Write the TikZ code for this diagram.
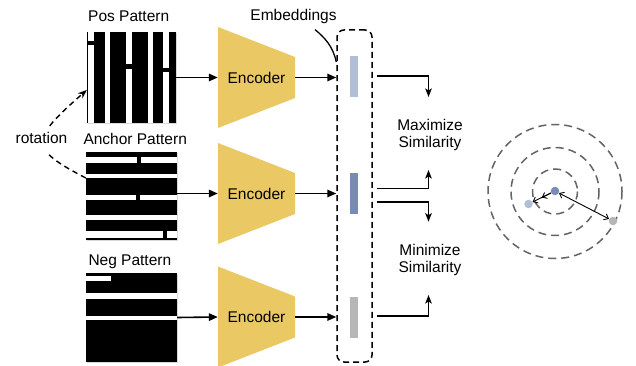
\documentclass[tikz,border=0pt]{standalone}
\usepackage{fontspec}
\setmainfont{Liberation Sans}
\usetikzlibrary{arrows.meta,shadows,calc}
\definecolor{encgold}{RGB}{234,200,100}
\definecolor{embpale}{RGB}{178,189,214}
\definecolor{embdeep}{RGB}{122,139,178}
\definecolor{embgrey}{RGB}{182,182,182}
\definecolor{ringgrey}{RGB}{100,100,100}

\begin{document}
\begin{tikzpicture}[x=1pt,y=-1pt,
  every node/.style={font=\fontsize{15.5}{17}\selectfont, inner sep=0pt},
  patbox/.style={fill=black, drop shadow={shadow xshift=0.8pt, shadow yshift=-1.2pt, opacity=0.3}},
  encnode/.style={minimum width=77pt, minimum height=101pt,
    path picture={\fill[encgold] (path picture bounding box.north west)
      -- ([yshift=-30pt]path picture bounding box.north east)
      -- ([yshift=30pt]path picture bounding box.south east)
      -- (path picture bounding box.south west) -- cycle;}},
  embbar/.style={minimum width=8pt, minimum height=41pt},
  mainarr/.style={line width=1.6pt, -{Triangle[length=9pt,width=7.5pt]}},
  simarr/.style={line width=1.6pt, -{Stealth[length=8.5pt,width=6.5pt,inset=2pt]}},
  ring/.style={draw=ringgrey, line width=1.5pt, dash pattern=on 8pt off 5pt},
  dot/.style={circle, minimum size=8.5pt},
  barb/.style={line width=0.9pt, -{Straight Barb[length=4pt,width=6.5pt]}},
  barbboth/.style={line width=0.9pt, {Straight Barb[length=4pt,width=6.5pt]}-{Straight Barb[length=4pt,width=6.5pt]}},
  rotarr/.style={line width=1.4pt, dash pattern=on 5.5pt off 4pt, -{Stealth[length=9pt,width=7pt]}}
]
\useasboundingbox (0,0) rectangle (636,366);

% ---------- input patterns ----------
\node[patbox, minimum width=89pt, minimum height=91pt] (pos) at (131.5,77.5) {};
\node[patbox, minimum width=91pt, minimum height=88pt] (anc) at (131.5,196) {};
\node[patbox, minimum width=91pt, minimum height=89pt] (neg) at (131.5,317.5) {};

% vertical stripes of the rotated pattern
\begin{scope}[shift={(pos.north west)}]
  \fill[white] (1,0) rectangle (6.8,9.4);
  \fill[white] (1,13.4) rectangle (6.8,91);
  \fill[white] (17.8,0) rectangle (22.9,91);
  \fill[white] (38.9,0) rectangle (45,32.7);
  \fill[white] (38.9,37.7) rectangle (45,91);
  \fill[white] (61,0) rectangle (66,91);
  \fill[white] (76.2,0) rectangle (82.2,36);
  \fill[white] (76.2,40) rectangle (82.2,91);
\end{scope}

% horizontal stripes of the anchor pattern
\begin{scope}[shift={(anc.north west)}]
  \fill[white] (0,5) rectangle (51,11);
  \fill[white] (55.5,5) rectangle (91,11);
  \fill[white] (0,22.6) rectangle (91,26.4);
  \fill[white] (0,43) rectangle (50,48.4);
  \fill[white] (54.6,43) rectangle (91,48.4);
  \fill[white] (0,63.4) rectangle (91,67.8);
  \fill[white] (0,79.6) rectangle (77.4,86.2);
  \fill[white] (81,79.6) rectangle (91,86.2);
\end{scope}

% negative pattern
\begin{scope}[shift={(neg.north west)}]
  \fill[white] (0,2.7) rectangle (25.5,8.4);
  \fill[white] (0,20.5) rectangle (91,25.8);
  \fill[white] (0,42.7) rectangle (91,47.6);
\end{scope}

\node[anchor=base west] (posl) at (88,22) {Pos Pattern};
\node[anchor=base west] (ancl) at (83.3,145) {Anchor Pattern};
\node[anchor=base west] (negl) at (88.3,265.7) {Neg Pattern};

% ---------- rotation ----------
\draw[rotarr] ([yshift=18pt]anc.west) .. controls (28,148) and (30,140) .. ([yshift=-12.5pt]pos.west);
\node[anchor=base, fill=white, inner xsep=2pt, inner ysep=5pt, text depth=5pt] (rot) at (41.5,143.3) {rotation};

% ---------- encoders ----------
\node[encnode] (enc1) at (256.5,77.5) {Encoder};
\node[encnode] (enc2) at (256.5,193.5) {Encoder};
\node[encnode] (enc3) at (256.5,317) {Encoder};

\draw[mainarr] (pos.east) -- (enc1.west);
\draw[mainarr] (anc.east |- enc2.west) -- (enc2.west);
\draw[mainarr] (neg.east) -- (enc3.west);

% ---------- embeddings ----------
\node[draw, line width=1.5pt, dash pattern=on 6pt off 4pt, rounded corners=7pt,
      minimum width=35pt, minimum height=332pt] (embbox) at (354.5,196) {};
\node[embbar, fill=embpale] (e1) at (354,76.5) {};
\node[embbar, fill=embdeep] (e2) at (354,193) {};
\node[embbar, fill=embgrey] (e3) at (354,317) {};

\draw[mainarr] (enc1.east) -- (enc1.east -| embbox.west);
\draw[mainarr] (enc2.east) -- (enc2.east -| embbox.west);
\draw[mainarr] (enc3.east) -- (enc3.east -| embbox.west);

\node[anchor=base] (embl) at (293.5,20.7) {Embeddings};
\draw[line width=1.3pt] ([xshift=21.5pt,yshift=-5.5pt]embl.south)
  .. controls (324,37) and (333,46) .. ([yshift=134pt]embbox.west);

% ---------- similarity objectives ----------
\coordinate (t1) at (428.5,97);
\coordinate (t2) at (428.5,170);
\coordinate (t3) at (428.5,221.7);
\coordinate (t4) at (428.5,295);

\draw[simarr] ($(embbox.east |- e1)+(4,-0.5)$) -| (t1);
\draw[simarr] ($(embbox.east |- e2)+(4,-4.7)$) -| (t2);
\draw[simarr] ($(embbox.east |- e2)+(4,8.7)$) -| (t3);
\draw[simarr] ($(embbox.east |- e3)+(4,-1)$) -| (t4);

\node[align=center] (maxl) at (430,134.6) {Maximize\\Similarity};
\node[align=center] (minl) at (430,259.5) {Minimize\\Similarity};

% ---------- embedding space ----------
\coordinate (ctr) at (555,191.5);
\draw[ring] (ctr) circle[radius=22.5];
\draw[ring] (ctr) circle[radius=44];
\draw[ring] (ctr) circle[radius=67];

\node[dot, fill=embdeep] (pa) at (555,191) {};
\node[dot, fill=embpale] (pp) at (528.5,204) {};
\node[dot, fill=embgrey] (pn) at (613,221) {};

\draw[barb] (pa) -- (pp);
\draw[barb] (pa) -- ($(pa)!0.5!(pp)$);
\draw[barbboth] (pa) -- (pn);
\end{tikzpicture}
\end{document}
